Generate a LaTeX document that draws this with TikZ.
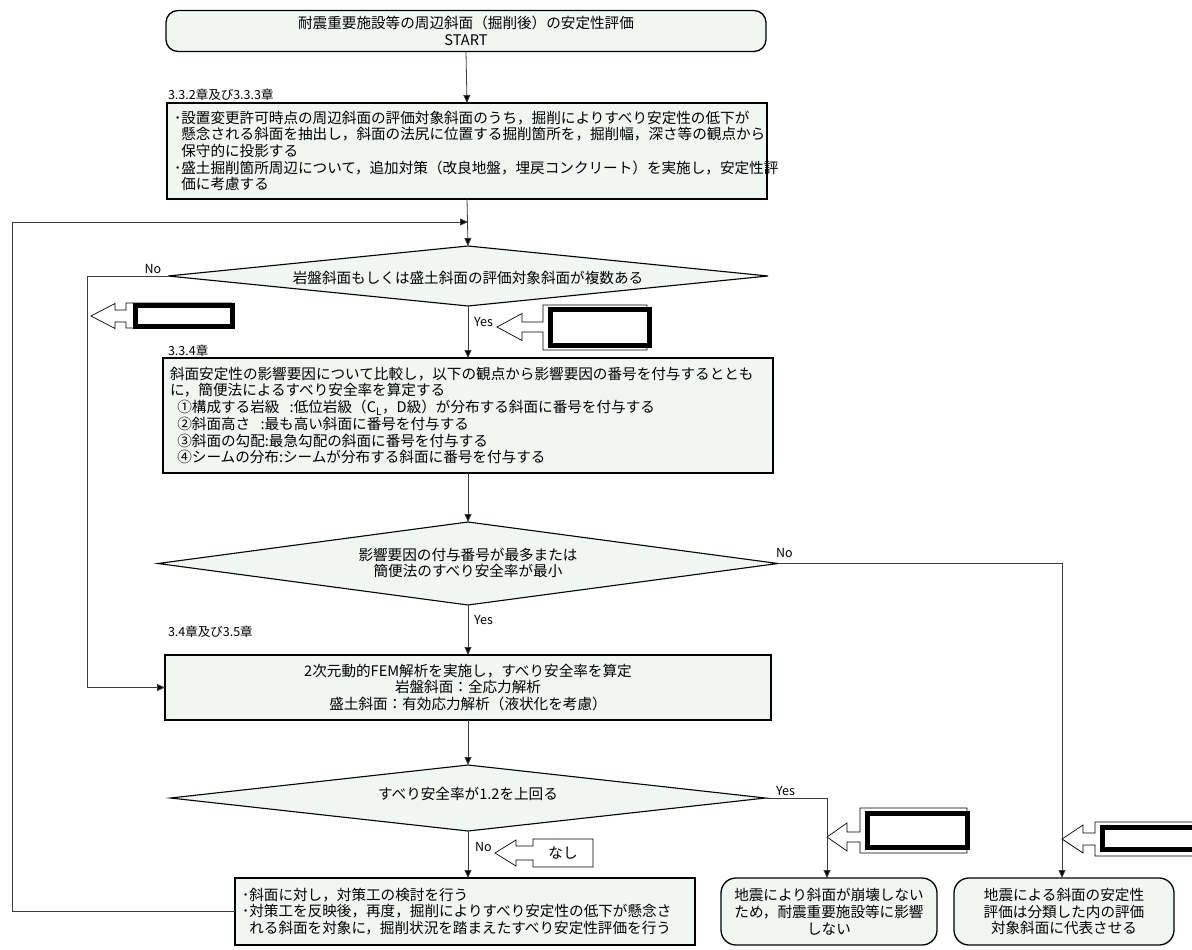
\documentclass[tikz,border=0pt]{standalone}
\usepackage{fontspec}
\setmainfont{Noto Sans CJK JP}
\usetikzlibrary{arrows.meta,shapes.geometric}
\definecolor{boxfill}{HTML}{EEF7F2}
\definecolor{conncol}{HTML}{3C3C3C}
\begin{document}
\begin{tikzpicture}[x=1pt,y=-1pt,
  every node/.style={inner sep=0pt,outer sep=0pt},
  jtext/.style={font=\fontsize{14.6}{16.7}\selectfont},
  procbox/.style={draw=black,line width=1.3pt,fill=boxfill,jtext,inner xsep=7pt},
  termbox/.style={procbox,rounded corners=12pt},
  decbox/.style={draw=black,line width=1.1pt,fill=boxfill,diamond,inner sep=0pt},
  conn/.style={draw=conncol,line width=0.8pt,-{Triangle[length=8pt,width=7pt,fill=black]}},
  lbl/.style={font=\fontsize{12.5}{14}\selectfont,anchor=west},
  yn/.style={font=\fontsize{12.5}{14}\selectfont},
  thinout/.style={draw=black,line width=0.7pt,fill=white},
  thickrect/.style={draw=black,line width=5pt,fill=white},
]
\useasboundingbox (0,0) rectangle (1192,950);
\fill[white] (0,0) rectangle (1192,950);

% start
\node[termbox,minimum width=600pt,minimum height=41pt,align=center] (start) at (466,31)
  {耐震重要施設等の周辺斜面（掘削後）の安定性評価\\START};

\node[lbl] (c1) at (168,95) {3.3.2章及び3.3.3章};
\node[procbox,text width=586pt,minimum height=96pt,align=left] (b1) at (467,151)
  {･設置変更許可時点の周辺斜面の評価対象斜面のうち，掘削によりすべり安定性の低下が\\
   \hspace*{0.5em}懸念される斜面を抽出し，斜面の法尻に位置する掘削箇所を，掘削幅，深さ等の観点から\\
   \hspace*{0.5em}保守的に投影する\\
   ･盛土掘削箇所周辺について，追加対策（改良地盤，埋戻コンクリート）を実施し，安定性評\\
   \hspace*{0.5em}価に考慮する};

% diamond 1
\node[decbox,minimum width=600pt,minimum height=60pt] (d1) at (468,276) {};
\node[jtext] (d1t) at (468,278) {岩盤斜面もしくは盛土斜面の評価対象斜面が複数ある};

\node[lbl] (c2) at (168,351) {3.3.4章};
\node[procbox,text width=596pt,minimum height=115pt,align=left] (b334) at (468,415.5)
  {斜面安定性の影響要因について比較し，以下の観点から影響要因の番号を付与するととも\\
   に，簡便法によるすべり安全率を算定する\\
   \hspace*{0.5em}①構成する岩級\hspace{0.7em}:低位岩級（C\textsubscript{L}，D級）が分布する斜面に番号を付与する\\
   \hspace*{0.5em}②斜面高さ\hspace{0.7em}:最も高い斜面に番号を付与する\\
   \hspace*{0.5em}③斜面の勾配:最急勾配の斜面に番号を付与する\\
   \hspace*{0.5em}④シームの分布:シームが分布する斜面に番号を付与する};

% diamond 2
\node[decbox,minimum width=620pt,minimum height=83pt] (d2) at (468,563.5) {};
\node[jtext,align=center] (d2t) at (468,563) {影響要因の付与番号が最多または\\簡便法のすべり安全率が最小};

\node[lbl] (c3) at (168,632) {3.4章及び3.5章};
\node[procbox,text width=592pt,minimum height=65pt,align=center] (b34) at (468,687.5)
  {2次元動的FEM解析を実施し，すべり安全率を算定\\
   岩盤斜面：全応力解析\\
   盛土斜面：有効応力解析（液状化を考慮）};

% diamond 3
\node[decbox,minimum width=595pt,minimum height=66pt] (d3) at (468,798) {};
\node[jtext] (d3t) at (468,794) {すべり安全率が1.2を上回る};

% bottom boxes
\node[procbox,text width=446pt,minimum height=67pt,align=left] (b5) at (465,911.5)
  {･斜面に対し，対策工の検討を行う\\
   ･対策工を反映後，再度，掘削によりすべり安定性の低下が懸念さ\\
   \hspace*{0.5em}れる斜面を対象に，掘削状況を踏まえたすべり安定性評価を行う};
\node[termbox,rounded corners=15pt,text width=202pt,minimum height=67pt,align=center] (b6) at (829,911.5)
  {地震により斜面が崩壊しない\\ため，耐震重要施設等に影響\\しない};
\node[termbox,rounded corners=15pt,text width=206pt,minimum height=67pt,align=center] (b7) at (1064,911.5)
  {地震による斜面の安定性\\評価は分類した内の評価\\対象斜面に代表させる};

% connectors
\coordinate (m1) at (468,222);
\coordinate (lc) at (12,222);
\coordinate (n1) at (87,276);
\coordinate (yb) at (827,798);
\coordinate (nb) at (1062,563.5);
\draw[conn] (start.south) -- (b1.north);
\draw[conn] (b1.south) -- (d1.north);
\draw[conn] (b5.west) -| (lc) -- (m1);
\draw[conn] (d1.west) -- (n1) |- (b34.west);
\draw[conn] (d1.south) -- (b334.north);
\draw[conn] (b334.south) -- (d2.north);
\draw[conn] (d2.south) -- (b34.north);
\draw[conn] (d2.east) -- (nb) -- (nb |- b7.north);
\draw[conn] (b34.south) -- (d3.north);
\draw[conn] (d3.south) -- (d3.south |- b5.north);
\draw[conn] (d3.east) -- (yb) -- (yb |- b6.north);

% yes/no labels
\node[yn,anchor=south] (no1) at (153,274) {No};
\node[yn,anchor=west] (yes1) at (474,322) {Yes};
\node[yn,anchor=west] (no2) at (776,553) {No};
\node[yn,anchor=west] (yes2) at (474,620) {Yes};
\node[yn,anchor=west] (yes3) at (776,791) {Yes};
\node[yn,anchor=west] (no3) at (475,847) {No};

% callouts
\draw[thinout] (91,316) -- (115,303.5) -- (115,310) -- (126,310) -- (126,303) -- (232,303) -- (232,328) -- (126,328) -- (126,322) -- (115,322) -- (115,328.5) -- cycle;
\draw[thickrect] (135.5,305.5) rectangle (232.5,326);

\draw[thinout] (497,327) -- (522,313.5) -- (522,322) -- (543,322) -- (543,305) -- (647,305) -- (647,350) -- (543,350) -- (543,332) -- (522,332) -- (522,340.5) -- cycle;
\draw[thickrect] (550.5,309.5) rectangle (649.5,345);

\draw[thinout] (827,837) -- (847,823) -- (847,832) -- (860,832) -- (860,808) -- (967,808) -- (967,853) -- (860,853) -- (860,842) -- (847,842) -- (847,851) -- cycle;
\draw[thickrect] (867.5,813.5) rectangle (967.5,847.5);

\draw[thinout] (1062,839) -- (1083,825) -- (1083,833) -- (1095,833) -- (1095,822) -- (1215,822) -- (1215,856) -- (1095,856) -- (1095,845) -- (1083,845) -- (1083,853) -- cycle;
\draw[thickrect] (1102.5,827.5) rectangle (1215,849.5);

\draw[thinout] (495,853) -- (516,840) -- (516,846) -- (533,846) -- (533,839) -- (593,839) -- (593,867) -- (533,867) -- (533,860) -- (516,860) -- (516,866) -- cycle;
\node[jtext] (nashi) at (563,853) {なし};
\end{tikzpicture}
\end{document}
